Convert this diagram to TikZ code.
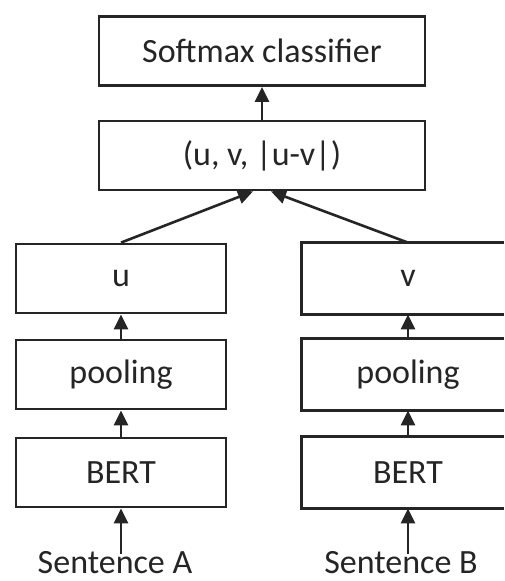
\documentclass[tikz,border=0pt]{standalone}
\usepackage{fontspec}
\setmainfont{Carlito}
\usetikzlibrary{arrows.meta}
\definecolor{ink}{HTML}{252525}
\begin{document}
\begin{tikzpicture}[x=1pt,y=-1pt,
  box/.style={draw=ink,line width=2.8pt,fill=white,rectangle,inner sep=0pt,
    minimum height=69pt,text=ink,font=\fontsize{34}{38}\selectfont},
  colbox/.style={box,minimum width=210pt},
  topbox/.style={box,minimum width=326pt},
  openbox/.style={box,draw=none,fill=none,minimum width=210pt},
  frame/.style={draw=ink,line width=2.8pt},
  lbl/.style={text=ink,font=\fontsize{34}{38}\selectfont,inner sep=0pt},
  conn/.style={draw=ink,line width=2.6pt,-{Triangle[length=15pt,width=14pt]}}]
\useasboundingbox (0,0) rectangle (504,581);
\clip (0,0) rectangle (504,581);
\fill[white] (0,0) rectangle (504,581);
\coordinate (rim) at (504,0);

% classifier head
\node[topbox] (soft) at (262,51) {Softmax classifier};
\node[topbox] (cat) at (262,155.5) {(u, v, |u-v|)};

% left tower
\node[colbox] (u) at (121,278.5) {u};
\node[colbox] (poolL) at (121,374.5) {pooling};
\node[colbox] (bertL) at (121,472.5) {BERT};
\node[lbl,anchor=base] (sa) at (115,573) {Sentence A};

% right tower: its boxes run off the right edge of the page
\node[openbox] (v) at (408,278.5) {v};
\node[openbox] (poolR) at (408,374.5) {pooling};
\node[openbox] (bertR) at (408,472.5) {BERT};
\foreach \b in {v,poolR,bertR}
  \draw[frame] (\b.north west -| rim) -- (\b.north west) -- (\b.south west) -- (\b.south west -| rim);
\node[lbl,anchor=base] (sb) at (401,573) {Sentence B};

% connectors
\draw[conn] (cat.north) -- (soft.south);
\coordinate (inL) at ([xshift=-9pt]cat.south);
\coordinate (inR) at ([xshift=9pt]cat.south);
\draw[conn] (u.north) -- (inL);
\draw[conn] (v.north) -- (inR);
\draw[conn] (poolL.north) -- (u.south);
\draw[conn] (bertL.north) -- (poolL.south);
\draw[conn] ([yshift=-3pt]bertL.south |- sa.north) -- (bertL.south);
\draw[conn] (poolR.north) -- (v.south);
\draw[conn] (bertR.north) -- (poolR.south);
\draw[conn] ([yshift=-3pt]bertR.south |- sb.north) -- (bertR.south);
\end{tikzpicture}
\end{document}
